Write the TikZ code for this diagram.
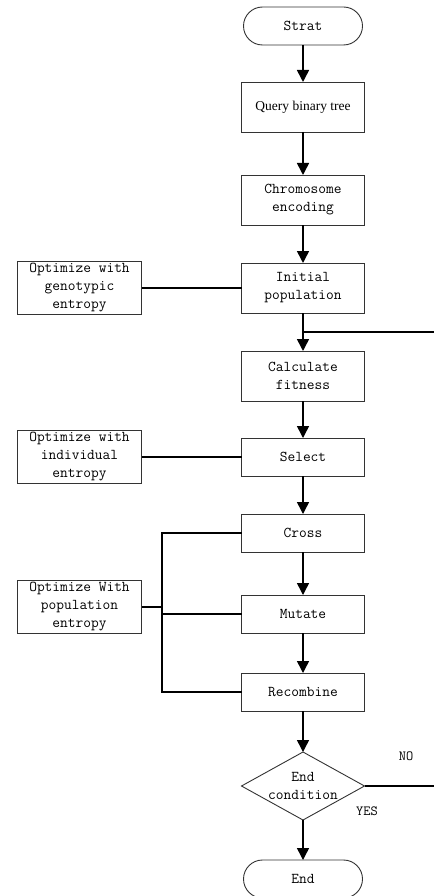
\documentclass[tikz,border=0pt]{standalone}
\usepackage{fontspec}
\newfontfamily\timesfont{Liberation Serif}
\usetikzlibrary{positioning,shapes.geometric,shapes.misc,arrows.meta}

\tikzset{
  block/.style={draw=black!80, line width=0.9pt, rectangle, minimum width=123pt,
    minimum height=38pt, align=center, inner sep=2pt, outer sep=0pt,
    font=\ttfamily\fontsize{15}{18}\selectfont},
  tallblock/.style={block, minimum height=50pt},
  note/.style={block, minimum width=124pt, minimum height=50pt},
  terminal/.style={block, rounded rectangle},
  decision/.style={block, diamond, aspect=1.8, minimum width=123pt,
    minimum height=68pt, inner sep=0pt},
  flow/.style={line width=1.5pt, -{Triangle[length=12pt,width=12pt]}},
  link/.style={line width=1.5pt},
  answer/.style={font=\ttfamily\fontsize{14}{16}\selectfont},
}

\begin{document}
\begin{tikzpicture}[x=1pt, y=-1pt]

    \useasboundingbox (0,0) rectangle (434,896);

    % main flow
    \node[terminal] (strat) at (303,26) {Strat};
    \node[tallblock, below=37pt of strat, font=\timesfont\fontsize{13.5}{16}\selectfont] (query) {Query binary tree};
    \node[tallblock, below=43pt of query]   (chromo)  {Chromosome\\encoding};
    \node[tallblock, below=38pt of chromo]  (initial) {Initial\\population};
    \node[tallblock, below=38pt of initial] (calc)    {Calculate\\fitness};
    \node[block, below=37pt of calc]        (select)  {Select};
    \node[block, below=38pt of select]      (cross)   {Cross};
    \node[block, below=43pt of cross]       (mutate)  {Mutate};
    \node[block, below=40pt of mutate]      (recomb)  {Recombine};
    \node[decision, below=41pt of recomb]   (cond)    {End\\condition};
    \node[terminal, below=40pt of cond]     (stop)    {End};

    % entropy notes
    \node[note, left=100pt of initial] (genotypic)  {Optimize with\\genotypic\\entropy};
    \node[note, left=100pt of select]  (individual) {Optimize with\\individual\\entropy};
    \node[note, left=100pt of mutate, yshift=7pt] (population) {Optimize With\\population\\entropy};

    % helper points
    \coordinate (rim)   at (434,0);
    \coordinate (bus)   at (162,0);
    \coordinate (merge) at (303,332);

    % the arrows
    \foreach \a/\b in {strat/query, query/chromo, chromo/initial, initial/calc,
                       calc/select, select/cross, cross/mutate, mutate/recomb,
                       recomb/cond, cond/stop}
        \draw[flow] (\a) -- (\b);

    % side links
    \draw[link] (genotypic) -- (initial);
    \draw[link] (individual) -- (select);
    \draw[link] (population.east) -- (population.east -| bus);
    \draw[link] (cross.west) -- (cross.west -| bus) -- (recomb.west -| bus) -- (recomb.west);
    \draw[link] (mutate.west) -- (mutate.west -| bus);

    % loop back
    \draw[link] (merge) -- (merge -| rim);
    \draw[link] (cond.east) -- (cond.east -| rim);
    \node[answer] (no)  at (406,756) {NO};
    \node[answer] (yes) at (367,811) {YES};

\end{tikzpicture}
\end{document}
